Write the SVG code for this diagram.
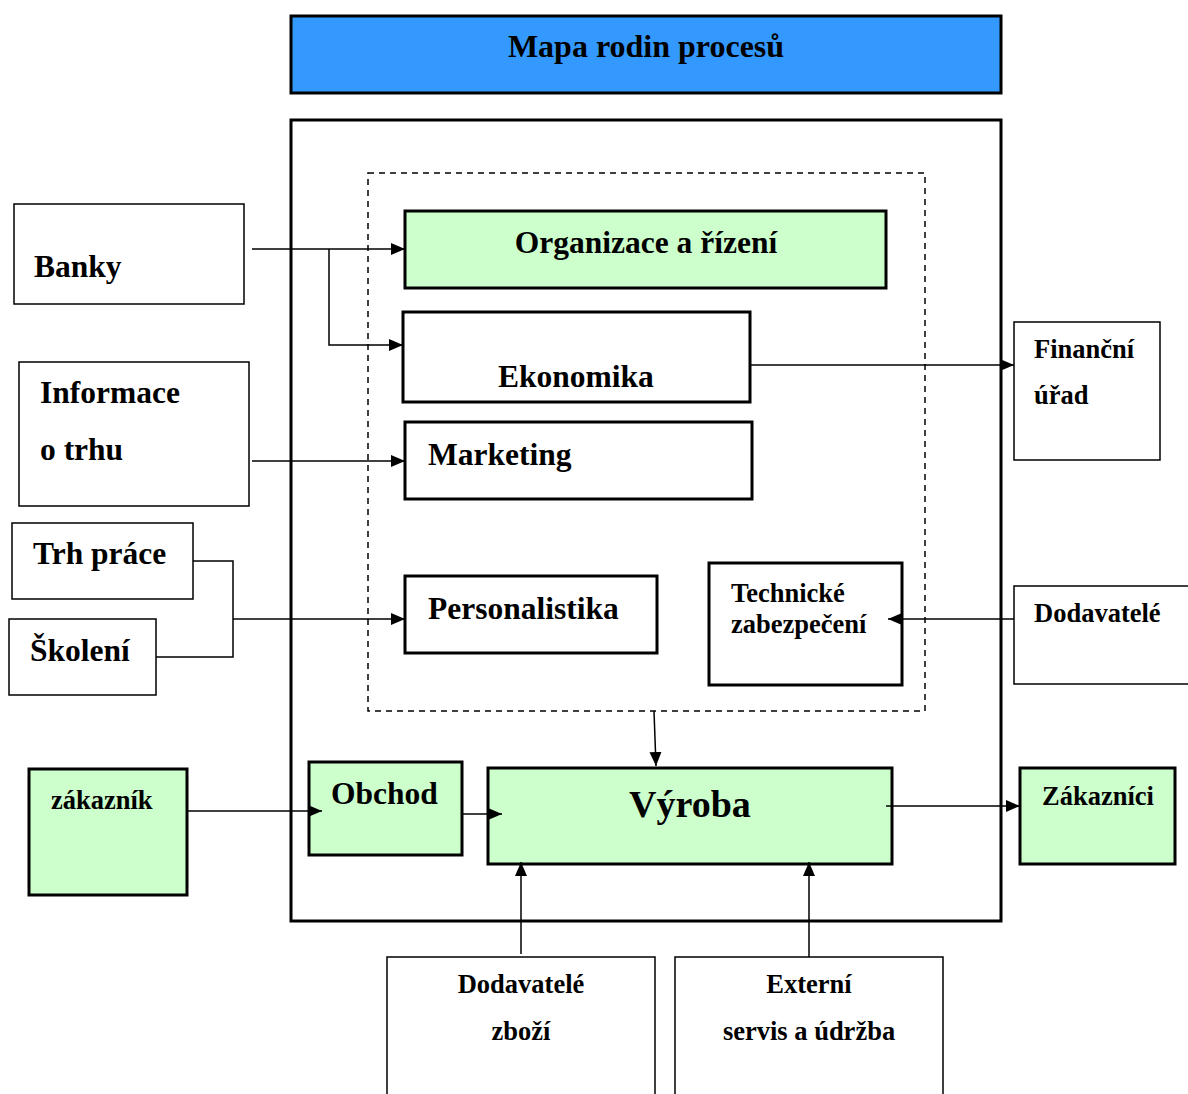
<svg xmlns="http://www.w3.org/2000/svg" width="1188" height="1094" viewBox="0 0 1188 1094">
  <style>
    text { font-family: "Liberation Serif", "Times New Roman", serif; font-weight: bold; fill: #000; }
    .big { font-size: 31.5px; }
    .mid { font-size: 26.5px; }
    .thick { stroke: #000; stroke-width: 3; }
    .thin { stroke: #000; stroke-width: 1.5; fill: #fff; }
    .green { fill: #ccffcc; }
    .white { fill: #fff; }
    .wire { stroke: #000; stroke-width: 1.5; fill: none; }
  </style>
  <defs>
    <marker id="arrowL" viewBox="0 0 14 12" refX="14" refY="6" markerWidth="14" markerHeight="12" markerUnits="userSpaceOnUse" orient="auto">
      <path d="M0,0 L14,6 L0,12 z" fill="#000"/>
    </marker>
  </defs>
  <rect width="1188" height="1094" fill="#fff"/>

  <!-- title bar -->
  <g id="title">
    <rect x="291" y="16" width="710" height="77" fill="#3399ff" class="thick"/>
    <text x="646" y="57" font-size="32" text-anchor="middle">Mapa rodin procesů</text>
  </g>

  <!-- company boundary and supporting processes frame -->
  <g id="company">
    <rect x="291" y="120" width="710" height="801" fill="none" class="thick"/>
  </g>
  <g id="support">
    <rect x="368" y="173" width="557" height="538" fill="none" stroke="#000" stroke-width="1.5" stroke-dasharray="6,5"/>
  </g>

  <!-- internal processes -->
  <g id="organizace">
    <rect x="405" y="211" width="481" height="77" class="thick green"/>
    <text x="646" y="253" class="big" text-anchor="middle">Organizace a řízení</text>
  </g>
  <g id="ekonomika">
    <rect x="403" y="312" width="347" height="90" class="thick white"/>
    <text x="498" y="387" class="big">Ekonomika</text>
  </g>
  <g id="marketing">
    <rect x="405" y="422" width="347" height="77" class="thick white"/>
    <text x="428" y="465" class="big">Marketing</text>
  </g>
  <g id="personalistika">
    <rect x="405" y="576" width="252" height="77" class="thick white"/>
    <text x="428" y="619" class="big">Personalistika</text>
  </g>
  <g id="technicke">
    <rect x="709" y="563" width="193" height="122" class="thick white"/>
    <text x="731" y="602" class="mid">Technické</text>
    <text x="731" y="633" class="mid">zabezpečení</text>
  </g>
  <g id="obchod">
    <rect x="309" y="762" width="153" height="93" class="thick green"/>
    <text x="331" y="804" class="big">Obchod</text>
  </g>
  <g id="vyroba">
    <rect x="488" y="768" width="404" height="96" class="thick green"/>
    <text x="690" y="817" font-size="38" text-anchor="middle">Výroba</text>
  </g>

  <!-- external parties, left -->
  <g id="banky">
    <rect x="14" y="204" width="230" height="100" class="thin"/>
    <text x="34" y="277" class="big">Banky</text>
  </g>
  <g id="informace">
    <rect x="19" y="362" width="230" height="144" class="thin"/>
    <text x="40" y="403" class="big">Informace</text>
    <text x="40" y="460" class="big">o trhu</text>
  </g>
  <g id="trh-prace">
    <rect x="12" y="523" width="181" height="76" class="thin"/>
    <text x="33" y="564" class="big">Trh práce</text>
  </g>
  <g id="skoleni">
    <rect x="9" y="619" width="147" height="76" class="thin"/>
    <text x="30" y="661" class="big">Školení</text>
  </g>
  <g id="zakaznik">
    <rect x="29" y="769" width="158" height="126" class="thick green"/>
    <text x="51" y="809" class="mid">zákazník</text>
  </g>

  <!-- external parties, right -->
  <g id="financni-urad">
    <rect x="1014" y="322" width="146" height="138" class="thin"/>
    <text x="1034" y="358" class="mid">Finanční</text>
    <text x="1034" y="404" class="mid">úřad</text>
  </g>
  <g id="dodavatele">
    <rect x="1014" y="586" width="180" height="98" class="thin"/>
    <text x="1034" y="622" class="mid">Dodavatelé</text>
  </g>
  <g id="zakaznici">
    <rect x="1020" y="768" width="155" height="96" class="thick green"/>
    <text x="1042" y="805" class="mid">Zákazníci</text>
  </g>

  <!-- external parties, bottom -->
  <g id="dodavatele-zbozi">
    <rect x="387" y="957" width="268" height="145" class="thin"/>
    <text x="521" y="993" class="mid" text-anchor="middle">Dodavatelé</text>
    <text x="521" y="1040" class="mid" text-anchor="middle">zboží</text>
  </g>
  <g id="externi-servis">
    <rect x="675" y="957" width="268" height="145" class="thin"/>
    <text x="809" y="993" class="mid" text-anchor="middle">Externí</text>
    <text x="809" y="1040" class="mid" text-anchor="middle">servis a údržba</text>
  </g>

  <!-- connectors -->
  <g id="connectors">
    <line x1="252" y1="249" x2="405" y2="249" class="wire" marker-end="url(#arrowL)"/>
    <polyline points="329,249 329,345 403,345" class="wire" marker-end="url(#arrowL)"/>
    <line x1="750" y1="365" x2="1014" y2="365" class="wire" marker-end="url(#arrowL)"/>
    <line x1="252" y1="461" x2="405" y2="461" class="wire" marker-end="url(#arrowL)"/>
    <polyline points="193,561 233,561 233,657 156,657" class="wire"/>
    <line x1="233" y1="619" x2="405" y2="619" class="wire" marker-end="url(#arrowL)"/>
    <line x1="1014" y1="619" x2="888" y2="619" class="wire" marker-end="url(#arrowL)"/>
    <line x1="654" y1="711" x2="656" y2="766" class="wire" marker-end="url(#arrowL)"/>
    <line x1="187" y1="811" x2="322" y2="811" class="wire" marker-end="url(#arrowL)"/>
    <line x1="462" y1="814" x2="502" y2="814" class="wire" marker-end="url(#arrowL)"/>
    <line x1="886" y1="806" x2="1020" y2="806" class="wire" marker-end="url(#arrowL)"/>
    <line x1="521" y1="954" x2="521" y2="862" class="wire" marker-end="url(#arrowL)"/>
    <line x1="809" y1="957" x2="809" y2="862" class="wire" marker-end="url(#arrowL)"/>
  </g>
</svg>
